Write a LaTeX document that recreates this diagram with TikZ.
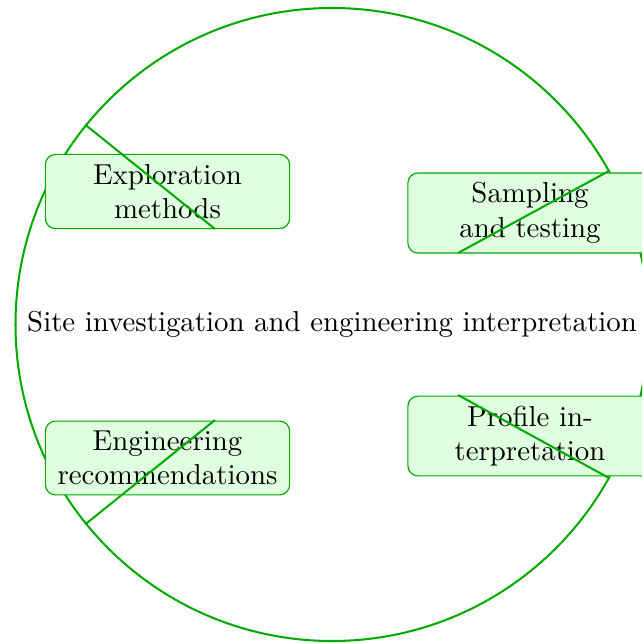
\documentclass[tikz,border=0pt]{standalone}
\definecolor{lg}{RGB}{0,170,0}
\definecolor{lgfill}{RGB}{224,255,224}
\tikzset{
  pxgrid/.style={x=0.3466pt,y=-0.3466pt},
  hub/.style={circle,draw=lg,line width=0.7pt,minimum size=219.4pt,inner sep=0pt},
  leaf/.style={rectangle,rounded corners=3.5pt,draw=lg,line width=0.4pt,fill=lgfill,
    text width=78pt,align=center,inner sep=3.33pt},
  spoke/.style={draw=lg,line width=0.7pt}
}
\begin{document}
\begin{tikzpicture}[pxgrid]
\useasboundingbox (0,0) rectangle (642,643);
\clip (0,0) rectangle (642,643);
\node[hub] (main) at (332,324.5) {Site investigation and engineering interpretation};
\node[leaf] (b1) at (167.5,191.5) {Exploration\\methods};
\node[leaf] (b2) at (530,213) {Sampling\\and testing};
\node[leaf] (b3) at (167.5,458) {Engineering\\recommendations};
\node[leaf] (b4) at (530,436) {Profile in-\\terpretation};
\coordinate (e1) at (215,229);
\coordinate (e2) at (458,253);
\coordinate (e3) at (215,420);
\coordinate (e4) at (458,395);
\draw[spoke] (main.141) -- (e1);
\draw[spoke] (main.29.2) -- (e2);
\draw[spoke] (main.219) -- (e3);
\draw[spoke] (main.-29.2) -- (e4);
\end{tikzpicture}
\end{document}
